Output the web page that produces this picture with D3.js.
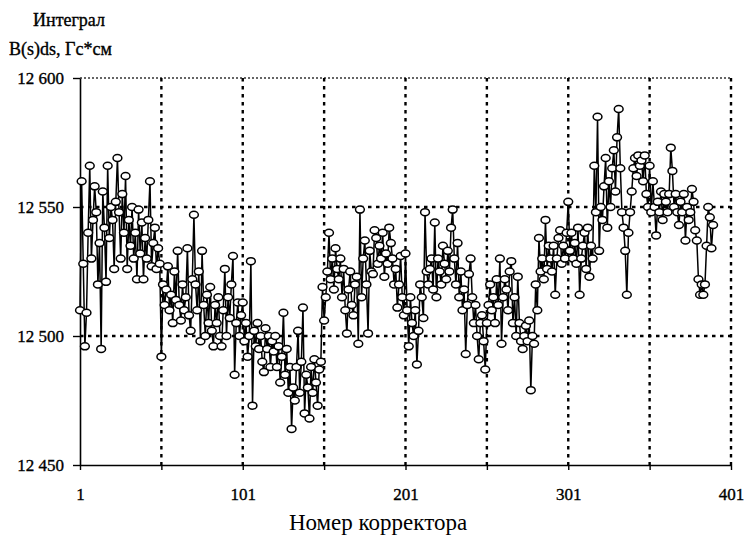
<!DOCTYPE html>
<html>
<head>
<meta charset="utf-8">
<script src="https://cdn.jsdelivr.net/npm/d3@7"></script>
<style>
  body { margin: 0; background: #fff; }
</style>
</head>
<body>
<svg id="chart" width="744" height="535"></svg>
<script>
/* Integral value of each corrector, Гс*см. */
const integrals = [
  12510, 12560, 12528, 12496, 12509, 12540, 12566, 12530, 12545, 12558,
  12548, 12520, 12536, 12495, 12556, 12542, 12521, 12566, 12538, 12550,
  12545, 12526, 12552, 12569, 12548, 12530, 12555, 12540, 12562, 12526,
  12545, 12535, 12550, 12530, 12540, 12522, 12549, 12532, 12544, 12522,
  12538, 12530, 12545, 12560, 12527, 12536, 12542, 12526, 12534, 12528,
  12492, 12520, 12512, 12518, 12527, 12510, 12516, 12505, 12525, 12514,
  12533, 12512, 12506, 12520, 12510, 12515, 12534, 12508, 12502, 12522,
  12547, 12520, 12510, 12525, 12498, 12533, 12512, 12500, 12516, 12505,
  12519, 12502, 12496, 12512, 12505, 12515, 12500, 12496, 12510, 12526,
  12500, 12515, 12507, 12520, 12531, 12485, 12505, 12513, 12500, 12508,
  12513, 12498, 12505, 12492, 12500, 12529, 12473, 12502, 12496, 12505,
  12495, 12500, 12490, 12486, 12503, 12495, 12500, 12488, 12498, 12494,
  12500, 12488, 12496, 12482, 12492, 12509, 12485, 12495, 12478, 12488,
  12464, 12480, 12475, 12488, 12502, 12478, 12490, 12511, 12470, 12485,
  12480, 12468, 12488, 12478, 12491, 12482, 12473, 12487, 12490, 12519,
  12506, 12515, 12525, 12540, 12522, 12530, 12518, 12534, 12526, 12522,
  12530, 12515, 12526, 12510, 12501, 12518, 12525, 12512, 12508, 12520,
  12523, 12497, 12549, 12515, 12530, 12537, 12520, 12501, 12533, 12525,
  12524, 12541, 12538, 12528, 12535, 12530, 12540, 12523, 12532, 12528,
  12542, 12536, 12530, 12520, 12526, 12511, 12520, 12531, 12515, 12508,
  12532, 12510, 12496, 12515, 12505, 12500, 12510, 12489, 12502, 12520,
  12515, 12507, 12548, 12525, 12520, 12526, 12530, 12518, 12544, 12515,
  12530, 12525, 12520, 12535, 12528, 12522, 12533, 12525, 12542, 12549,
  12530, 12520, 12536, 12515, 12525, 12510, 12518, 12493, 12512, 12524,
  12530, 12515, 12505, 12512, 12500, 12491, 12505, 12508, 12498, 12487,
  12505, 12512, 12520, 12510, 12515, 12505, 12522, 12512, 12530, 12497,
  12515, 12522, 12518, 12510, 12525, 12529, 12505, 12515, 12500, 12523,
  12505, 12498, 12495, 12500, 12504, 12498, 12506, 12479, 12500, 12497,
  12520, 12510, 12538, 12525, 12530, 12522, 12545, 12526, 12535, 12530,
  12525, 12535, 12516, 12530, 12538, 12541, 12528, 12535, 12530, 12540,
  12552, 12533, 12540, 12530, 12536, 12528, 12542, 12516, 12530, 12535,
  12540, 12526, 12542, 12523, 12535, 12530, 12566, 12548, 12585, 12533,
  12550, 12545, 12558, 12569, 12542, 12560, 12550, 12565, 12572, 12556,
  12577, 12588, 12565, 12548, 12542, 12533, 12516, 12540, 12548, 12556,
  12565, 12569, 12562, 12570, 12566, 12568, 12560, 12570, 12555, 12550,
  12566, 12548, 12560, 12550, 12539, 12552, 12548, 12556, 12545, 12555,
  12552, 12548, 12555, 12573, 12564, 12550, 12555, 12548, 12543, 12552,
  12548, 12555, 12537, 12550, 12545, 12548, 12557, 12552, 12541, 12537,
  12522, 12516, 12520, 12516, 12520, 12535, 12550, 12546, 12534, 12543
]

/* Axis ticks and labels. */
const yTicks = [12450, 12500, 12550, 12600]
const xTicks = [1, 51, 101, 151, 201, 251, 301, 351, 401]
const xLabels = [1, 101, 201, 301, 401]
const yGrid = [12500, 12550]
const xGrid = [51, 101, 151, 201, 251, 301, 351, 401]

/* Plot box. */
const plotLeft = 80
const plotRight = 731
const plotTop = 78
const plotBottom = 465

const serif = "Liberation Serif"

const svg = d3.select("#chart")

/* Scales. */
const xScale = d3.scaleLinear()
  .domain([1, 401])
  .range([plotLeft, plotRight])

const yScale = d3.scaleLinear()
  .domain([12450, 12600])
  .range([plotBottom, plotTop])

/* Number format with a space between thousands. */
const yFormat = d => d3.format(",")(d).replace(",", " ")

/* Top frame, dotted. */
svg.append("line")
  .attr("x1", plotLeft).attr("x2", plotRight)
  .attr("y1", yScale(12600)).attr("y2", yScale(12600))
  .attr("stroke", "#333")
  .attr("stroke-width", 1.4)
  .attr("stroke-dasharray", "2,2")

/* Dotted grid. */
svg.selectAll(".hgrid")
  .data(yGrid)
  .join("line")
  .attr("class", "hgrid")
  .attr("x1", plotLeft).attr("x2", plotRight)
  .attr("y1", d => yScale(d)).attr("y2", d => yScale(d))
  .attr("stroke", "#000")
  .attr("stroke-width", 2.6)
  .attr("stroke-dasharray", "3.5,4.5")

svg.selectAll(".vgrid")
  .data(xGrid)
  .join("line")
  .attr("class", "vgrid")
  .attr("x1", d => xScale(d)).attr("x2", d => xScale(d))
  .attr("y1", plotTop).attr("y2", plotBottom)
  .attr("stroke", "#000")
  .attr("stroke-width", 2.4)
  .attr("stroke-dasharray", "3.5,4.5")

/* Axes. */
const yAxis = d3.axisLeft(yScale)
  .tickValues(yTicks)
  .tickSize(7)
  .tickSizeOuter(0)
  .tickPadding(9)
  .tickFormat(yFormat)

const xAxis = d3.axisBottom(xScale)
  .tickValues(xTicks)
  .tickSize(5)
  .tickSizeOuter(0)
  .tickPadding(18)
  .tickFormat(d => xLabels.includes(d) ? d : "")

svg.append("g")
  .attr("transform", `translate(${plotLeft},0)`)
  .call(yAxis)

svg.append("g")
  .attr("transform", `translate(0,${plotBottom})`)
  .call(xAxis)

/* Axis styling. */
svg.selectAll(".domain").attr("stroke", "#000").attr("stroke-width", 1.6)
svg.selectAll(".tick line").attr("stroke", "#000").attr("stroke-width", 1.4)
svg.selectAll(".tick text")
  .attr("fill", "#000")
  .attr("stroke", "#000")
  .attr("stroke-width", 0.35)
  .style("font-family", serif)
  .style("font-size", "17px")

/* Line through all correctors. */
const line = d3.line()
  .x((d, i) => xScale(i + 1))
  .y(d => yScale(d))

svg.append("path")
  .datum(integrals)
  .attr("d", line)
  .attr("fill", "none")
  .attr("stroke", "#000")
  .attr("stroke-width", 1.5)

/* Open markers. */
svg.selectAll(".marker")
  .data(integrals)
  .join("ellipse")
  .attr("class", "marker")
  .attr("cx", (d, i) => xScale(i + 1))
  .attr("cy", d => yScale(d))
  .attr("rx", 4.4)
  .attr("ry", 3.5)
  .attr("fill", "#fff")
  .attr("stroke", "#000")
  .attr("stroke-width", 1.5)

/* Titles. */
svg.append("text")
  .attr("x", 33)
  .attr("y", 26)
  .attr("stroke", "#000")
  .attr("stroke-width", 0.35)
  .style("font-family", serif)
  .style("font-size", "18px")
  .text("Интеграл")

svg.append("text")
  .attr("x", 9)
  .attr("y", 55)
  .attr("stroke", "#000")
  .attr("stroke-width", 0.35)
  .style("font-family", serif)
  .style("font-size", "18px")
  .text("B(s)ds, Гс*см")

svg.append("text")
  .attr("x", 378)
  .attr("y", 530)
  .attr("text-anchor", "middle")
  .style("font-family", serif)
  .style("font-size", "23px")
  .text("Номер корректора")
</script>
</body>
</html>
